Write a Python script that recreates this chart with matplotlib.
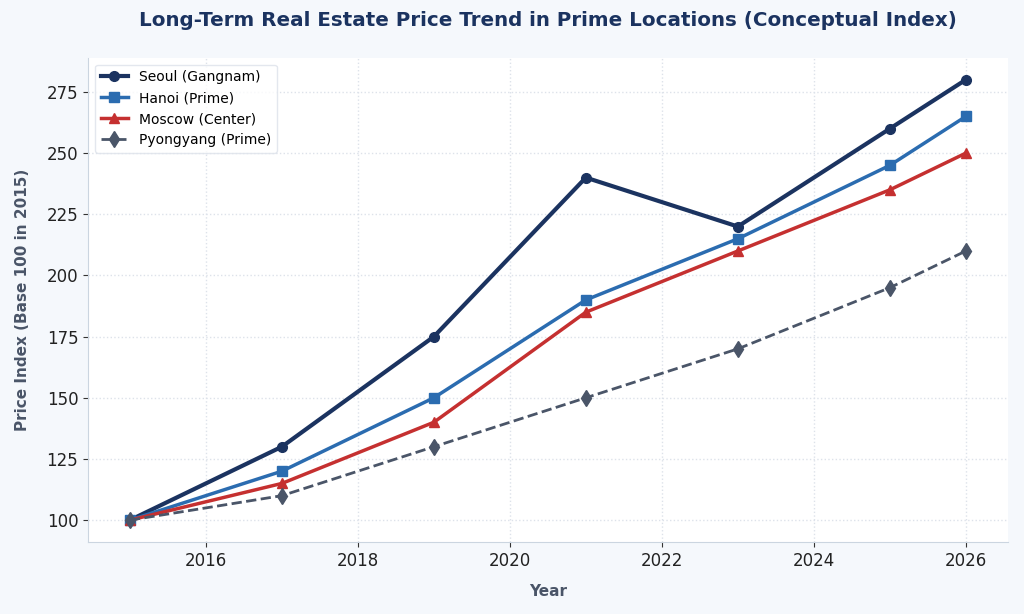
import matplotlib
matplotlib.use("Agg")
import matplotlib.pyplot as plt

years = [2015, 2017, 2019, 2021, 2023, 2025, 2026]
seoul = [100, 130, 175, 240, 220, 260, 280]
hanoi = [100, 120, 150, 190, 215, 245, 265]
moscow = [100, 115, 140, 185, 210, 235, 250]
pyongyang = [100, 110, 130, 150, 170, 195, 210]

bg = '#f5f8fc'
fig = plt.figure(figsize=(10.24, 6.14), dpi=100, facecolor=bg)
ax = fig.add_axes([0.086, 0.117, 0.898, 0.789])
ax.set_facecolor('white')

ax.plot(years, seoul, color='#1b3360', marker='o', lw=3, ms=7, label='Seoul (Gangnam)')
ax.plot(years, hanoi, color='#2b6cb0', marker='s', lw=2.5, ms=7, label='Hanoi (Prime)')
ax.plot(years, moscow, color='#c53030', marker='^', lw=2.5, ms=7, label='Moscow (Center)')
ax.plot(years, pyongyang, color='#4a5568', marker='d', lw=2, ms=8, ls='--', label='Pyongyang (Prime)')

ax.set_title('Long-Term Real Estate Price Trend in Prime Locations (Conceptual Index)',
             fontsize=14.3, fontweight='bold', color='#1b3360', pad=23)
ax.set_xlabel('Year', fontsize=11, fontweight='bold', color='#4a5568', labelpad=10)
ax.set_ylabel('Price Index (Base 100 in 2015)', fontsize=11, fontweight='bold', color='#4a5568', labelpad=12)

ax.set_yticks([100, 125, 150, 175, 200, 225, 250, 275])
ax.tick_params(labelsize=12, colors='#222222')
ax.tick_params(axis='both', color='#333333')
ax.grid(True, ls=':', color='#dde2ea', lw=1)
for s in ['top', 'right']:
    ax.spines[s].set_visible(False)
for s in ['left', 'bottom']:
    ax.spines[s].set_color('#cbd5e0')

leg = ax.legend(loc='upper left', fontsize=10, frameon=True)
leg.get_frame().set_edgecolor('#dde2ea')

fig.savefig('out.png', dpi=100, facecolor=bg)
